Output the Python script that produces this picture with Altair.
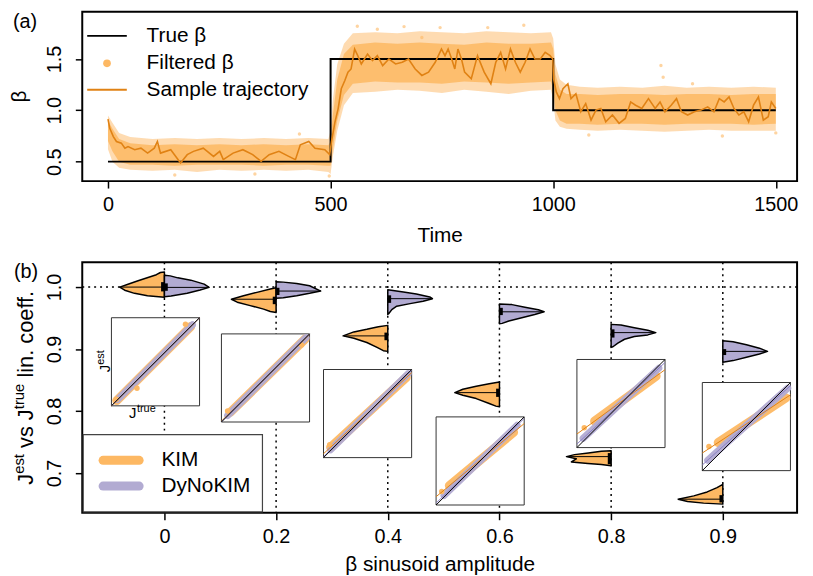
import altair as alt
import pandas as pd

# ------------------------------------------------------------------ data (a)
TRUE_T = [0, 500, 1000, 1500]
TRUE_B = [0.5, 1.5, 1.0, 1.0]

TRAJ_T = [0, 4, 12, 19, 30, 38, 45, 60, 74, 89, 104, 111, 118, 141, 163, 178, 192, 214, 237, 251,
          259, 281, 303, 325, 344, 362, 384, 406, 421, 432, 451, 465, 487, 498,
          502, 510, 517, 524, 532, 539, 546, 554, 561, 569, 576, 583, 594, 605, 617, 631, 646, 661, 675, 690,
          705, 720, 735, 749, 757, 764, 772, 779, 786, 794, 801, 816, 830, 845, 860, 871, 882, 893, 904, 915,
          926, 937, 948, 959, 971, 982, 993, 999,
          1001, 1007, 1014, 1022, 1033, 1040, 1051, 1062, 1073, 1085, 1096, 1107, 1118, 1133, 1148, 1162,
          1174, 1185, 1199, 1214, 1229, 1240, 1251, 1265, 1277, 1288, 1302, 1317, 1332, 1347, 1361, 1373,
          1384, 1395, 1406, 1417, 1428, 1439, 1450, 1461, 1472, 1483, 1490, 1500]
TRAJ_B = [0.915, 0.824, 0.744, 0.696, 0.68, 0.63, 0.646, 0.616, 0.631, 0.583, 0.631, 0.696, 0.583, 0.616,
          0.487, 0.568, 0.60, 0.631, 0.551, 0.60, 0.519, 0.583, 0.616, 0.568, 0.503, 0.568, 0.60, 0.551,
          0.519, 0.664, 0.696, 0.631, 0.616, 0.568,
          0.696, 0.889, 1.017, 1.21, 1.29, 1.372, 1.403, 1.597, 1.533, 1.452, 1.50, 1.548, 1.485, 1.533,
          1.436, 1.50, 1.452, 1.468, 1.50, 1.403, 1.34, 1.372, 1.468, 1.597, 1.533, 1.597, 1.50, 1.403,
          1.597, 1.50, 1.372, 1.307, 1.533, 1.372, 1.259, 1.468, 1.565, 1.403, 1.597, 1.468, 1.372, 1.468,
          1.597, 1.50, 1.50, 1.565, 1.533, 1.50,
          1.307, 1.179, 1.114, 1.21, 1.259, 1.114, 1.162, 0.986, 1.066, 0.905, 1.002, 1.018, 0.889, 0.954,
          0.873, 0.921, 1.082, 1.05, 1.018, 1.114, 1.018, 1.082, 0.986, 1.05, 1.114, 0.986, 0.954, 0.986,
          1.002, 1.034, 0.986, 1.114, 1.082, 1.13, 1.018, 0.954, 0.986, 0.889, 1.05, 1.13, 0.905, 0.938,
          1.082, 1.018]

BAND_T = [0, 10, 25, 50, 100, 150, 200, 250, 300, 350, 400, 450, 495, 500, 505, 515, 530, 550, 600, 650,
          700, 750, 800, 850, 900, 950, 995, 1000, 1005, 1015, 1030, 1060, 1100, 1150, 1200, 1250, 1300,
          1350, 1400, 1450, 1500]
OUT_LO = [0.62, 0.50, 0.44, 0.42, 0.41, 0.42, 0.40, 0.42, 0.41, 0.42, 0.41, 0.42, 0.40, 0.38, 0.55, 0.80,
          1.05, 1.17, 1.18, 1.20, 1.19, 1.17, 1.20, 1.18, 1.16, 1.19, 1.20, 1.10, 0.90, 0.84, 0.82, 0.81,
          0.80, 0.81, 0.80, 0.79, 0.80, 0.81, 0.80, 0.80, 0.80]
OUT_HI = [0.95, 0.88, 0.78, 0.74, 0.72, 0.73, 0.72, 0.73, 0.72, 0.73, 0.72, 0.73, 0.72, 0.80, 1.10, 1.45,
          1.65, 1.75, 1.76, 1.75, 1.77, 1.76, 1.75, 1.77, 1.76, 1.75, 1.76, 1.70, 1.45, 1.30, 1.25, 1.23,
          1.22, 1.23, 1.22, 1.24, 1.22, 1.23, 1.22, 1.23, 1.22]
IN_LO = [0.70, 0.60, 0.50, 0.47, 0.47, 0.46, 0.47, 0.47, 0.47, 0.46, 0.47, 0.47, 0.46, 0.46, 0.62, 0.90,
         1.15, 1.26, 1.28, 1.27, 1.27, 1.26, 1.28, 1.27, 1.26, 1.27, 1.28, 1.20, 1.00, 0.90, 0.87, 0.87,
         0.86, 0.87, 0.87, 0.86, 0.87, 0.87, 0.87, 0.86, 0.87]
IN_HI = [0.90, 0.82, 0.72, 0.68, 0.66, 0.67, 0.66, 0.67, 0.66, 0.67, 0.66, 0.67, 0.66, 0.70, 0.95, 1.30,
         1.55, 1.64, 1.66, 1.65, 1.66, 1.65, 1.64, 1.66, 1.65, 1.65, 1.66, 1.60, 1.35, 1.20, 1.16, 1.16,
         1.15, 1.16, 1.16, 1.15, 1.16, 1.16, 1.15, 1.16, 1.16]
DOT_T = [150, 330, 497, 560, 605, 665, 705, 746, 853, 934, 1242, 1247, 1313, 1500, 1080, 1380, 430]
DOT_B = [0.37, 0.38, 0.36, 1.82, 1.79, 1.816, 1.71, 1.806, 1.806, 1.83, 1.436, 1.323, 1.259, 0.78, 0.76,
         0.75, 0.77]

LEGEND_A = ["True β", "Filtered β", "Sample trajectory"]
PANEL_LABELS = ["(a)", "(b)"]
TITLE_A_Y = "β"

# ------------------------------------------------------------------ data (b)
AMP_LABELS = ["0", "0.2", "0.4", "0.6", "0.8", "0.9"]
SERIES = ["KIM", "DyNoKIM"]
# y title "J^est vs J^true lin. coeff." as (text, is_superscript, leading space)
TITLE_B_Y = [("J", False, False), ("est", True, False), ("vs J", False, True),
             ("true", True, False), ("lin. coeff.", False, True)]
INSET_XLAB = [("J", False), ("true", True)]
INSET_YLAB = [("J", False), ("est", True)]

KIM_V = [[1.0244, 1.0235, 1.0200, 1.0101, 1.0050, 1.0, 0.9950, 0.9899, 0.9859, 0.9835],
         [0.9989, 0.9968, 0.9915, 0.9861, 0.9804, 0.9756, 0.9701, 0.9644, 0.9605, 0.9589],
         [0.9382, 0.9361, 0.9318, 0.9276, 0.9212, 0.9174, 0.9105, 0.9026, 0.8973, 0.8962],
         [0.8466, 0.8439, 0.8398, 0.8350, 0.8296, 0.8254, 0.8200, 0.8120, 0.8078, 0.8067],
         [0.7359, 0.7348, 0.7321, 0.7295, 0.7263, 0.7228, 0.7177, 0.7152, 0.7136, 0.7117],
         [0.6816, 0.6762, 0.6693, 0.6629, 0.6576, 0.6538, 0.6512, 0.6496]]
KIM_D = [[0, .09, .18, .59, .80, 1.0, .89, .67, .38, 0],
         [0, .13, .43, .73, 1.0, .87, .58, .28, .13, 0],
         [0, .21, .47, .76, 1.0, .76, .47, .24, .10, 0],
         [0, .23, .52, .82, 1.0, .82, .52, .23, .08, 0],
         [0, .22, .51, .82, 1.0, .78, .89, .52, .22, 0],
         [0, .13, .35, .65, 1.0, .79, .43, 0]]
DYN_V = [[1.0192, 1.0181, 1.0149, 1.0112, 1.0048, 0.9995, 0.9952, 0.9899, 0.9856, 0.9845],
         [1.0085, 1.0080, 1.0059, 1.0021, 0.9936, 0.9899, 0.9861, 0.9829, 0.9819],
         [0.9957, 0.9920, 0.9888, 0.9840, 0.9813, 0.9772, 0.9733, 0.9692, 0.9637, 0.9569, 0.9558],
         [0.9728, 0.9717, 0.9676, 0.9633, 0.9601, 0.9558, 0.9505, 0.9452, 0.9414, 0.9409],
         [0.9398, 0.9388, 0.9345, 0.9302, 0.9265, 0.9228, 0.9201, 0.9158, 0.9094, 0.9037, 0.9026],
         [0.9133, 0.9117, 0.9069, 0.9014, 0.8962, 0.8919, 0.8866, 0.8813, 0.8786]]
DYN_D = [[0, .13, .30, .59, .89, 1.0, .80, .51, .15, 0],
         [0, .16, .46, .75, 1.0, .75, .46, .16, 0],
         [0, .35, .64, .94, 1.0, .79, .50, .20, .09, .02, 0],
         [0, .28, .57, .87, 1.0, .79, .50, .21, .06, 0],
         [0, .22, .52, .82, 1.0, .82, .52, .30, .15, .04, 0],
         [0, .23, .53, .82, 1.0, .82, .53, .23, 0]]

KIM_MED = [1.0, 0.9804, 0.9212, 0.8296, 0.7263, 0.6576]
DYN_MED = [0.9995, 0.9936, 0.9813, 0.9601, 0.9265, 0.8962]
KIM_Q1 = [0.993, 0.9724, 0.9142, 0.8227, 0.7140, 0.6523]
KIM_Q3 = [1.008, 0.9845, 0.9265, 0.8360, 0.7320, 0.6641]
DYN_Q1 = [0.994, 0.9872, 0.9745, 0.9548, 0.9185, 0.8903]
DYN_Q3 = [1.006, 0.9989, 0.9867, 0.9665, 0.9318, 0.8999]

# inset regressions (J_est vs J_true), in inset-relative units
KIM_SLOPE = [1.0, 0.98, 0.92, 0.83, 0.73, 0.66]
KIM_ICPT = [0.0, 0.011, 0.044, 0.094, 0.154, 0.20]
DYN_SLOPE = [1.0, 0.994, 0.981, 0.96, 0.926, 0.90]
DYN_ICPT = [0.0, 0.004, 0.010, 0.022, 0.040, 0.064]
KIM_CLOUD = [(0.06, 0.90), (0.10, 0.95), (0.08, 0.94), (0.15, 0.88), (0.20, 0.90), (0.18, 0.95)]
DYN_CLOUD = [(0.07, 0.92), (0.07, 0.96), (0.08, 0.96), (0.09, 0.92), (0.07, 0.93), (0.06, 0.97)]
ODOT_INSET = [0, 0, 0, 1, 1, 2, 3, 4, 5]
ODOT_U = [0.84, 0.057, 0.29, 0.07, 0.91, 0.07, 0.064, 0.083, 0.075]
ODOT_V = [0.925, 0.075, 0.20, 0.125, 0.875, 0.146, 0.153, 0.226, 0.274]
HLINE = [1.0]

# ------------------------------------------------------------------ styles / layout
ORANGE = "#FDB863"
PURPLE = "#B2ABD2"
TRAJ_COL = "#E08214"
DYN_LINE = "#8A80C2"
FONT = "Liberation Sans"
# Arial / Liberation Sans advance widths (em) for the characters used in composed titles
EM = {"J": .5, "e": .556, "s": .5, "t": .278, "v": .5, " ": .278, "r": .333, "u": .556,
      "l": .222, "i": .222, "n": .556, ".": .278, "c": .5, "o": .556, "f": .278}

A_W, A_H = 722, 171
B_W, B_H = 722, 253
XA = [-57.8, 1547.8]
YA = [0.31, 1.96]
XB = [0.2642, 6.665]
YB = [0.6356, 1.040]
HALF = 0.4
PXU = B_W / (XB[1] - XB[0])      # px per x unit in (b)
PYU = B_H / (YB[1] - YB[0])      # px per y unit in (b)
INSET_CX = [0.920, 1.905, 2.819, 3.827, 5.088, 6.211]
INSET_CY = [0.8794, 0.8533, 0.7958, 0.7193, 0.8120, 0.7748]
INSET_W = 89 / PXU
INSET_H = 89 / PYU


def to_main(k, u, v):
    return INSET_CX[k] + (u - 0.5) * INSET_W, INSET_CY[k] + (v - 0.5) * INSET_H


def xpix(x):
    return (x - XB[0]) * PXU


def ypix(y):
    return (YB[1] - y) * PYU


def width(s, fs):
    return sum(EM.get(ch, 0.55) for ch in s) * fs


def one(text):
    return pd.DataFrame({"lab": [text]})


def txt(text, x, y, fs, **kw):
    return alt.Chart(one(text)).mark_text(fontSize=fs, font=FONT, **kw).encode(
        x=alt.value(x), y=alt.value(y), text="lab:N")


# ------------------------------------------------------------------ panel (a)
xa = alt.Scale(domain=XA, nice=False, zero=False)
ya = alt.Scale(domain=YA, nice=False, zero=False)
xa_axis = alt.Axis(values=[0, 500, 1000, 1500], format="d", title="Time",
                   labelPadding=7, titlePadding=10)
ya_axis = alt.Axis(values=[0.5, 1.0, 1.5], format=".1f", title=None, labelAngle=-90,
                   labelAlign="center", labelBaseline="alphabetic", labelPadding=15)

band = pd.DataFrame({"t": BAND_T, "olo": OUT_LO, "ohi": OUT_HI, "ilo": IN_LO, "ihi": IN_HI})
traj = pd.DataFrame({"t": TRAJ_T, "b": TRAJ_B})
dots = pd.DataFrame({"t": DOT_T, "b": DOT_B})
true_df = pd.DataFrame({"t": TRUE_T, "b": TRUE_B})

XA_ = lambda f: alt.X(f, scale=xa)
YA_ = lambda f: alt.Y(f, scale=ya)

a_outer = alt.Chart(band).mark_area(color=ORANGE, opacity=0.5).encode(
    x=alt.X("t:Q", scale=xa, axis=xa_axis),
    y=alt.Y("olo:Q", scale=ya, axis=ya_axis), y2="ohi:Q")
a_inner = alt.Chart(band).mark_area(color=ORANGE, opacity=0.85).encode(
    x=XA_("t:Q"), y=YA_("ilo:Q"), y2="ihi:Q")
a_dots = alt.Chart(dots).mark_circle(color=ORANGE, opacity=0.6, size=12).encode(
    x=XA_("t:Q"), y=YA_("b:Q"))
a_true = alt.Chart(true_df).mark_line(color="black", strokeWidth=2, interpolate="step-after").encode(
    x=XA_("t:Q"), y=YA_("b:Q"))
a_traj = alt.Chart(traj).mark_line(color=TRAJ_COL, strokeWidth=1.6).encode(
    x=XA_("t:Q"), y=YA_("b:Q"))

leg_rows = [24.3, 52, 78.7]
a_leg = [
    alt.Chart(one(LEGEND_A[0])).mark_rule(color="black", strokeWidth=2).encode(
        x=alt.value(5), x2=alt.value(45), y=alt.value(leg_rows[0])),
    alt.Chart(one(LEGEND_A[1])).mark_point(filled=True, color=ORANGE, size=60, opacity=1).encode(
        x=alt.value(25), y=alt.value(leg_rows[1])),
    alt.Chart(one(LEGEND_A[2])).mark_rule(color=TRAJ_COL, strokeWidth=2).encode(
        x=alt.value(5), x2=alt.value(45), y=alt.value(leg_rows[2])),
]
for i, lab in enumerate(LEGEND_A):
    a_leg.append(txt(lab, 65, leg_rows[i], 21, align="left", baseline="middle"))
a_tag = txt(PANEL_LABELS[0], -70, 0, 20, align="left", baseline="top")
a_ytitle = txt(TITLE_A_Y, -57, A_H / 2, 21, align="center", baseline="alphabetic", angle=270)

panel_a = alt.layer(a_outer, a_inner, a_dots, a_true, a_traj, *a_leg, a_tag, a_ytitle).properties(
    width=A_W, height=A_H)

# ------------------------------------------------------------------ panel (b)
xb = alt.Scale(domain=XB, nice=False, zero=False)
yb = alt.Scale(domain=YB, nice=False, zero=False)
label_expr = "[" + ",".join("'%s'" % s for s in AMP_LABELS) + "][datum.value - 1]"
xb_axis = alt.Axis(values=list(range(1, len(AMP_LABELS) + 1)), labelExpr=label_expr,
                   title="β sinusoid amplitude", labelPadding=7.5, titlePadding=6.5)
yb_axis = alt.Axis(values=[0.7, 0.8, 0.9, 1.0], format=".1f", title=None,
                   labelAngle=-90, labelAlign="center", labelBaseline="alphabetic", labelPadding=15)

vl_df = pd.DataFrame({"idx": list(range(1, len(AMP_LABELS) + 1))})
hl_df = pd.DataFrame({"v": HLINE})

# violins
vrows = []
for i in range(len(AMP_LABELS)):
    c = i + 1
    for s, V, D, side in (("KIM", KIM_V[i], KIM_D[i], -1), ("DyNoKIM", DYN_V[i], DYN_D[i], 1)):
        for v, d in zip(V, D):
            vrows.append({"grp": "%s_%d" % (s, i), "series": s, "v": v, "xc": c, "xe": c + side * HALF * d})
viol = pd.DataFrame(vrows)

mrows = []
for i in range(len(AMP_LABELS)):
    c = i + 1
    mrows.append({"xc": c, "xm": c - HALF * 0.98, "xq": c - 0.03, "med": KIM_MED[i], "q1": KIM_Q1[i], "q3": KIM_Q3[i]})
    mrows.append({"xc": c, "xm": c + HALF * 0.98, "xq": c + 0.03, "med": DYN_MED[i], "q1": DYN_Q1[i], "q3": DYN_Q3[i]})
meds = pd.DataFrame(mrows)

# insets
box_rows, cloud_rows, fit_rows, dot_rows = [], [], [], []
for k in range(len(AMP_LABELS)):
    x0, y0 = to_main(k, 0, 0)
    x1, y1 = to_main(k, 1, 1)
    box_rows.append({"x": x0, "x2": x1, "y": y0, "y2": y1})
    for s, (u0, u1), a, b in (("KIM", KIM_CLOUD[k], KIM_ICPT[k], KIM_SLOPE[k]),
                              ("DyNoKIM", DYN_CLOUD[k], DYN_ICPT[k], DYN_SLOPE[k])):
        for u in (u0, u1):
            X, Y = to_main(k, u, a + b * u)
            cloud_rows.append({"key": "%s_%d" % (s, k), "series": s, "X": X, "Y": Y})
        for u in (0.0, 1.0):
            X, Y = to_main(k, u, a + b * u)
            fit_rows.append({"key": "%s_%d" % (s, k), "series": s, "X": X, "Y": Y})
    for u in (0.0, 1.0):
        X, Y = to_main(k, u, u)
        fit_rows.append({"key": "id_%d" % k, "series": "identity", "X": X, "Y": Y})
for k, u, v in zip(ODOT_INSET, ODOT_U, ODOT_V):
    X, Y = to_main(k, u, v)
    dot_rows.append({"X": X, "Y": Y})
boxes = pd.DataFrame(box_rows)
clouds = pd.DataFrame(cloud_rows)
fits = pd.DataFrame(fit_rows)
odots = pd.DataFrame(dot_rows)

XN = lambda f: alt.X(f, scale=xb)
YN = lambda f: alt.Y(f, scale=yb)

b_vl = alt.Chart(vl_df).mark_rule(color="black", strokeWidth=1.5, strokeDash=[2, 4]).encode(
    x=alt.X("idx:Q", scale=xb, axis=xb_axis))
b_hl = alt.Chart(hl_df).mark_rule(color="black", strokeWidth=1.5, strokeDash=[2, 4]).encode(
    y=alt.Y("v:Q", scale=yb, axis=yb_axis))
b_box = alt.Chart(boxes).mark_rect(fill="white", stroke="#333333", strokeWidth=1).encode(
    x=XN("x:Q"), x2="x2:Q", y=YN("y:Q"), y2="y2:Q")
b_cloud_k = alt.Chart(clouds).transform_filter(alt.datum.series == "KIM").mark_line(
    color=ORANGE, strokeWidth=9, strokeCap="round", opacity=0.95).encode(
    x=XN("X:Q"), y=YN("Y:Q"), detail="key:N")
b_cloud_d = alt.Chart(clouds).transform_filter(alt.datum.series == "DyNoKIM").mark_line(
    color=PURPLE, strokeWidth=7, strokeCap="round", opacity=0.95).encode(
    x=XN("X:Q"), y=YN("Y:Q"), detail="key:N")
b_odots = alt.Chart(odots).mark_circle(color=ORANGE, size=30, opacity=1).encode(x=XN("X:Q"), y=YN("Y:Q"))
b_fit_k = alt.Chart(fits).transform_filter(alt.datum.series == "KIM").mark_line(
    color=TRAJ_COL, strokeWidth=1).encode(x=XN("X:Q"), y=YN("Y:Q"), detail="key:N")
b_fit_d = alt.Chart(fits).transform_filter(alt.datum.series == "DyNoKIM").mark_line(
    color=DYN_LINE, strokeWidth=1).encode(x=XN("X:Q"), y=YN("Y:Q"), detail="key:N")
b_fit_i = alt.Chart(fits).transform_filter(alt.datum.series == "identity").mark_line(
    color="black", strokeWidth=1).encode(x=XN("X:Q"), y=YN("Y:Q"), detail="key:N")

b_viol = alt.Chart(viol).mark_area(orient="horizontal", stroke="black", strokeWidth=1.5,
                                   strokeJoin="round").encode(
    y=YN("v:Q"), x=alt.X("xe:Q", scale=xb, stack=None), x2="xc:Q",
    fill=alt.Fill("series:N", scale=alt.Scale(domain=SERIES, range=[ORANGE, PURPLE]), legend=None),
    detail="grp:N")
b_med = alt.Chart(meds).mark_rule(color="black", strokeWidth=1).encode(x=XN("xc:Q"), x2="xm:Q", y=YN("med:Q"))
b_iqr = alt.Chart(meds).mark_rect(color="black").encode(x=XN("xc:Q"), x2="xq:Q", y=YN("q1:Q"), y2="q3:Q")

# inset axis labels (first inset only), composed as J + superscript
bl = xpix(INSET_CX[0] - INSET_W / 2)
bt = ypix(INSET_CY[0] + INSET_H / 2)
bb = ypix(INSET_CY[0] - INSET_H / 2)
inset_labs = [
    txt(INSET_XLAB[0][0], bl + 25.3, bb + 12.7, 15, align="right", baseline="alphabetic"),
    txt(INSET_XLAB[1][0], bl + 25.8, bb + 6.7, 11, align="left", baseline="alphabetic"),
    txt(INSET_YLAB[0][0], bl - 1.7, bt + 55, 15, align="left", baseline="alphabetic", angle=270),
    txt(INSET_YLAB[1][0], bl - 7.7, bt + 55 - width("J", 15), 11, align="left", baseline="alphabetic", angle=270),
]

# composed y title of panel (b)
MAIN_FS, SUP_FS = 22, 15
segs, pos = [], 0.0
for s, sup, lead in TITLE_B_Y:
    fs = SUP_FS if sup else MAIN_FS
    if lead:
        pos += width(" ", MAIN_FS)
    segs.append((s, sup, fs, pos))
    pos += width(s, fs)
start_y = B_H / 2 + pos / 2
title_b = [txt(s, -59 if sup else -50, start_y - p, fs, align="left", baseline="alphabetic", angle=270)
           for s, sup, fs, p in segs]

# legend (b)
b_leg = [
    alt.Chart(one("box")).mark_rect(fill="white", stroke="#444444", strokeWidth=1.2).encode(
        x=alt.value(1), x2=alt.value(182), y=alt.value(174), y2=alt.value(252)),
    alt.Chart(one(SERIES[0])).mark_rule(color=ORANGE, strokeWidth=9, strokeCap="round").encode(
        x=alt.value(21), x2=alt.value(57.5), y=alt.value(200)),
    alt.Chart(one(SERIES[1])).mark_rule(color=PURPLE, strokeWidth=9, strokeCap="round").encode(
        x=alt.value(21), x2=alt.value(57.5), y=alt.value(226)),
    txt(SERIES[0], 80, 200, 21, align="left", baseline="middle"),
    txt(SERIES[1], 80, 226, 21, align="left", baseline="middle"),
]
b_tag = txt(PANEL_LABELS[1], -69, 0, 20, align="left", baseline="top")

panel_b = alt.layer(b_vl, b_hl, b_box, b_cloud_k, b_cloud_d, b_odots, b_fit_k, b_fit_d, b_fit_i,
                    b_viol, b_med, b_iqr, *inset_labs, *title_b, *b_leg, b_tag).properties(
    width=B_W, height=B_H)

chart = alt.vconcat(panel_a, panel_b, spacing=14).properties(
    padding={"left": 0, "top": 0, "right": 0, "bottom": 0}
).configure(font=FONT).configure_axis(
    labelFont=FONT, titleFont=FONT, labelFontSize=20, titleFontSize=21, labelColor="black",
    titleColor="black", tickColor="black", tickWidth=1.5, tickSize=7, domain=False, grid=False,
    titleFontWeight="normal"
).configure_view(stroke="black", strokeWidth=2)

chart.save("out.html", embed_options={"renderer": "svg", "actions": False})
